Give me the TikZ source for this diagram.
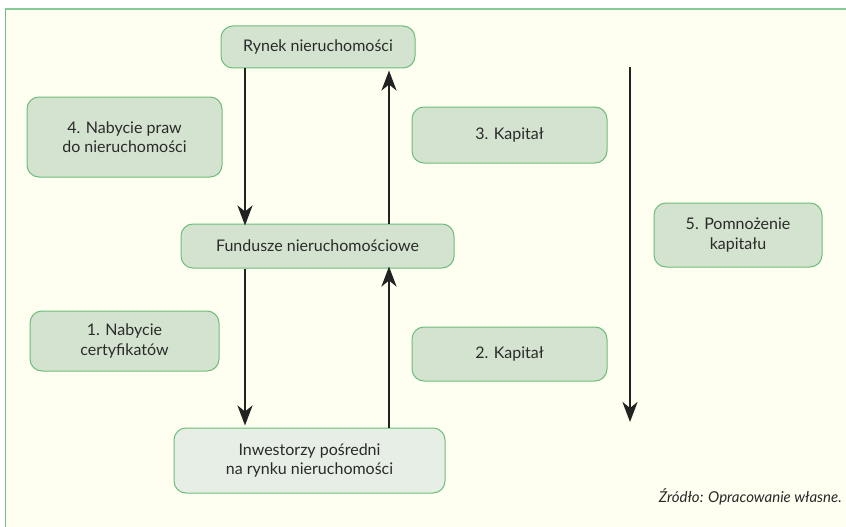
\documentclass[tikz,border=0pt]{standalone}
\usepackage{fontspec}
\setmainfont{Lato}
\usetikzlibrary{arrows.meta}
\definecolor{bgc}{HTML}{FEFEF1}
\definecolor{frc}{HTML}{6DBE7C}
\definecolor{topc}{HTML}{86CC98}
\definecolor{boxf}{HTML}{D4E3CF}
\definecolor{boxl}{HTML}{E6EEE6}
\definecolor{txt}{HTML}{2A2A2A}
\definecolor{arc}{HTML}{222222}
\tikzset{
  box/.style={draw=frc, line width=1pt, fill=boxf, rounded corners=12pt,
    align=center, text=txt, font=\fontsize{16}{19.5}\selectfont, inner sep=0pt},
  arr/.style={draw=arc, line width=2.8pt, -{Stealth[length=20pt,width=15pt,inset=6pt]}},
}
\begin{document}
\begin{tikzpicture}[x=1pt,y=-1pt]
\useasboundingbox (0,0) rectangle (846,527);
\fill[white] (0,0) rectangle (846,527);
\fill[bgc] (5,9) rectangle (846,527);
\draw[topc, line width=2pt] (5,9) -- (846,9);
\draw[frc, line width=1.5pt] (5.5,9) -- (5.5,527);
% nodes
\node[box, minimum width=194pt, minimum height=42pt] (rynek) at (318,47) {Rynek nieruchomości};
\node[box, minimum width=195pt, minimum height=80pt] (n4) at (124.5,137) {4. Nabycie praw\\do nieruchomości};
\node[box, minimum width=195pt, minimum height=56pt] (k3) at (509.5,135) {3. Kapitał};
\node[box, minimum width=273pt, minimum height=44pt] (fund) at (317.5,246) {Fundusze nieruchomościowe};
\node[box, minimum width=168pt, minimum height=64pt] (n5) at (738,235) {5. Pomnożenie\\kapitału};
\node[box, minimum width=189pt, minimum height=60pt] (n1) at (124.5,341) {1. Nabycie\\certyfikatów};
\node[box, minimum width=195pt, minimum height=54pt] (k2) at (509.5,354) {2. Kapitał};
\node[box, fill=boxl, minimum width=271pt, minimum height=65pt] (inw) at (309.5,460.5) {Inwestorzy pośredni\\na rynku nieruchomości};
\node[anchor=east, text=txt, font=\fontsize{15}{18}\selectfont\itshape, inner sep=0pt] (src) at (842,497) {Źródło: Opracowanie własne.};
% arrows
\coordinate (a5s) at (630,67);
\coordinate (a5e) at (630,422);
\draw[arr] (rynek.south -| 245,0) -- ([yshift=-2pt]fund.north -| 245,0);
\draw[arr] (fund.north -| 389,0) -- ([yshift=-2pt]rynek.south -| 389,0);
\draw[arr] (fund.south -| 245,0) -- ([yshift=2pt]inw.north -| 245,0);
\draw[arr] (inw.north -| 389,0) -- ([yshift=2pt]fund.south -| 389,0);
\draw[arr] (a5s) -- (a5e);
\end{tikzpicture}
\end{document}
